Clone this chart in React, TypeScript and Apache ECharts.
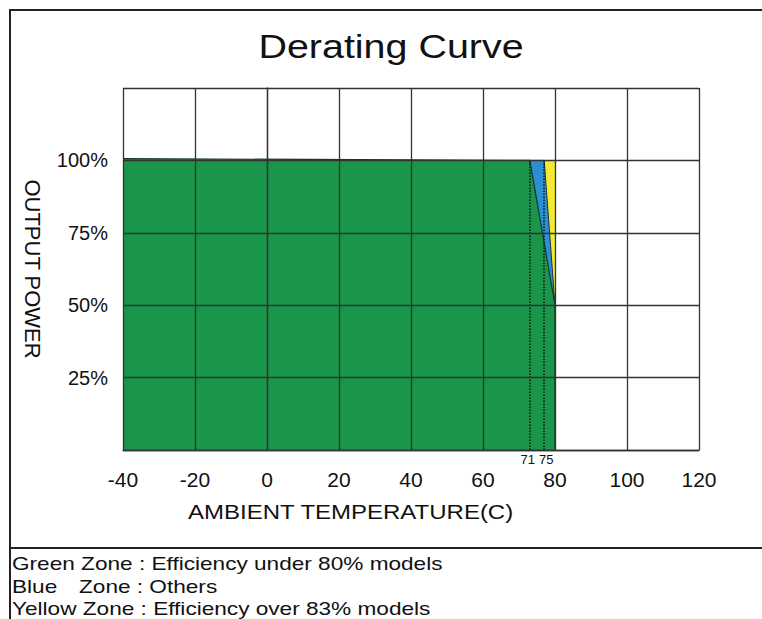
import React, { useEffect, useRef } from "react";
import * as echarts from "echarts";

// Axis ticks
const xMin = -40;
const xMax = 120;
const xStep = 20;
const yMin = 0;
const yMax = 125;
const yStep = 25;
const yTickLabels = [25, 50, 75, 100];

// Zones (temperature °C, output %)
const greenZone: number[][] = [
  [-40, 100.6],
  [73, 100],
  [80, 50],
  [80, 0],
];
const blueZone: number[][] = [
  [73, 100],
  [77, 100],
  [80, 50],
];
const yellowZone: number[][] = [
  [77, 100],
  [80, 100],
];

// Dotted marker lines and their labels
const markerTemps = [73, 77];
const markerLabels = ["71", "75"];
const markerLabelShift = [-2, 2];

const legendLines = [
  "Green Zone : Efficiency under 80% models",
  "Blue",
  "Yellow Zone : Efficiency over 83% models",
];

const FONT = "'Liberation Sans', Arial, Helvetica, sans-serif";

export default function App() {
  const ref = useRef<HTMLDivElement>(null);
  useEffect(() => {
    const chart = echarts.init(ref.current!, null, { renderer: "svg" });
    const axisColor = "#333";
    chart.setOption({
      animation: false,
      backgroundColor: "#ffffff",
      textStyle: { fontFamily: FONT },
      grid: { left: 123, top: 88, width: 576, height: 362, show: false },
      xAxis: {
        type: "value",
        min: xMin,
        max: xMax,
        interval: xStep,
        z: 10,
        axisLine: { show: true, onZero: false, lineStyle: { color: axisColor, width: 1.3 } },
        axisTick: { show: false },
        splitLine: { show: true, lineStyle: { color: axisColor, width: 1.3 } },
        axisLabel: { color: "#111", fontSize: 21, margin: 19, fontFamily: FONT },
      },
      yAxis: {
        type: "value",
        min: yMin,
        max: yMax,
        interval: yStep,
        z: 10,
        name: "OUTPUT POWER",
        nameLocation: "middle",
        nameRotate: -90,
        nameGap: 80,
        nameTextStyle: { color: "#111", fontSize: 22, fontFamily: FONT },
        axisLine: { show: true, lineStyle: { color: axisColor, width: 1.3 } },
        axisTick: { show: false },
        splitLine: { show: true, lineStyle: { color: axisColor, width: 1.3 } },
        axisLabel: {
          color: "#111",
          fontSize: 20,
          margin: 15,
          fontFamily: FONT,
          formatter: (v: number) => (yTickLabels.includes(v) ? v + "%" : ""),
        },
      },
      series: [
        {
          type: "line",
          data: yellowZone,
          symbol: "none",
          lineStyle: { width: 0 },
          areaStyle: { color: "#f3e92e", opacity: 1 },
          z: 1,
        },
        {
          type: "line",
          data: blueZone,
          symbol: "none",
          lineStyle: { width: 1, color: "#1d2f4a" },
          areaStyle: { color: "#2a8fd3", opacity: 1 },
          z: 2,
        },
        {
          type: "line",
          data: greenZone,
          symbol: "none",
          lineStyle: { width: 1.2, color: "#143822" },
          areaStyle: { color: "#1a964b", opacity: 1 },
          z: 3,
          markLine: {
            silent: true,
            symbol: ["none", "none"],
            lineStyle: { type: "dotted", color: "#111", width: 1.5 },
            label: {
              show: true,
              position: "start",
              formatter: "{b}",
              fontSize: 13,
              color: "#111",
              distance: 3,
              fontFamily: FONT,
            },
            data: markerTemps.map((t, i) => [
              {
                coord: [t, 0],
                name: markerLabels[i],
                label: { offset: [markerLabelShift[i], 0] },
              },
              { coord: [t, 100] },
            ]),
          },
        },
      ],
      graphic: [
        {
          type: "rect",
          shape: { x: 10, y: 10, width: 800, height: 700 },
          style: { fill: "none", stroke: "#222", lineWidth: 2 },
          silent: true,
        },
        {
          type: "line",
          shape: { x1: 10, y1: 548, x2: 762, y2: 548 },
          style: { stroke: "#222", lineWidth: 2 },
          silent: true,
        },
        {
          type: "text",
          x: 391,
          y: 46,
          scaleX: 1.16,
          style: {
            text: "Derating Curve",
            fontSize: 34,
            fontFamily: FONT,
            fill: "#111",
            textAlign: "center",
            textVerticalAlign: "middle",
          },
        },
        {
          type: "text",
          x: 188,
          y: 512,
          scaleX: 1.2,
          style: {
            text: "AMBIENT TEMPERATURE(C)",
            fontSize: 20,
            fontFamily: FONT,
            fill: "#111",
            textVerticalAlign: "middle",
          },
        },
        {
          type: "text",
          x: 12,
          y: 563,
          scaleX: 1.19,
          style: { text: legendLines[0], fontSize: 19, fontFamily: FONT, fill: "#111", textVerticalAlign: "middle" },
        },
        {
          type: "text",
          x: 12,
          y: 586,
          scaleX: 1.19,
          style: { text: legendLines[1], fontSize: 19, fontFamily: FONT, fill: "#111", textVerticalAlign: "middle" },
        },
        {
          type: "text",
          x: 79,
          y: 586,
          scaleX: 1.19,
          style: { text: "Zone : Others", fontSize: 19, fontFamily: FONT, fill: "#111", textVerticalAlign: "middle" },
        },
        {
          type: "text",
          x: 12,
          y: 608,
          scaleX: 1.19,
          style: { text: legendLines[2], fontSize: 19, fontFamily: FONT, fill: "#111", textVerticalAlign: "middle" },
        },
      ],
    });
    return () => chart.dispose();
  }, []);
  return (
    <div
      ref={ref}
      style={{ position: "absolute", left: 0, top: 0, width: 762, height: 619, background: "#fff" }}
    />
  );
}
